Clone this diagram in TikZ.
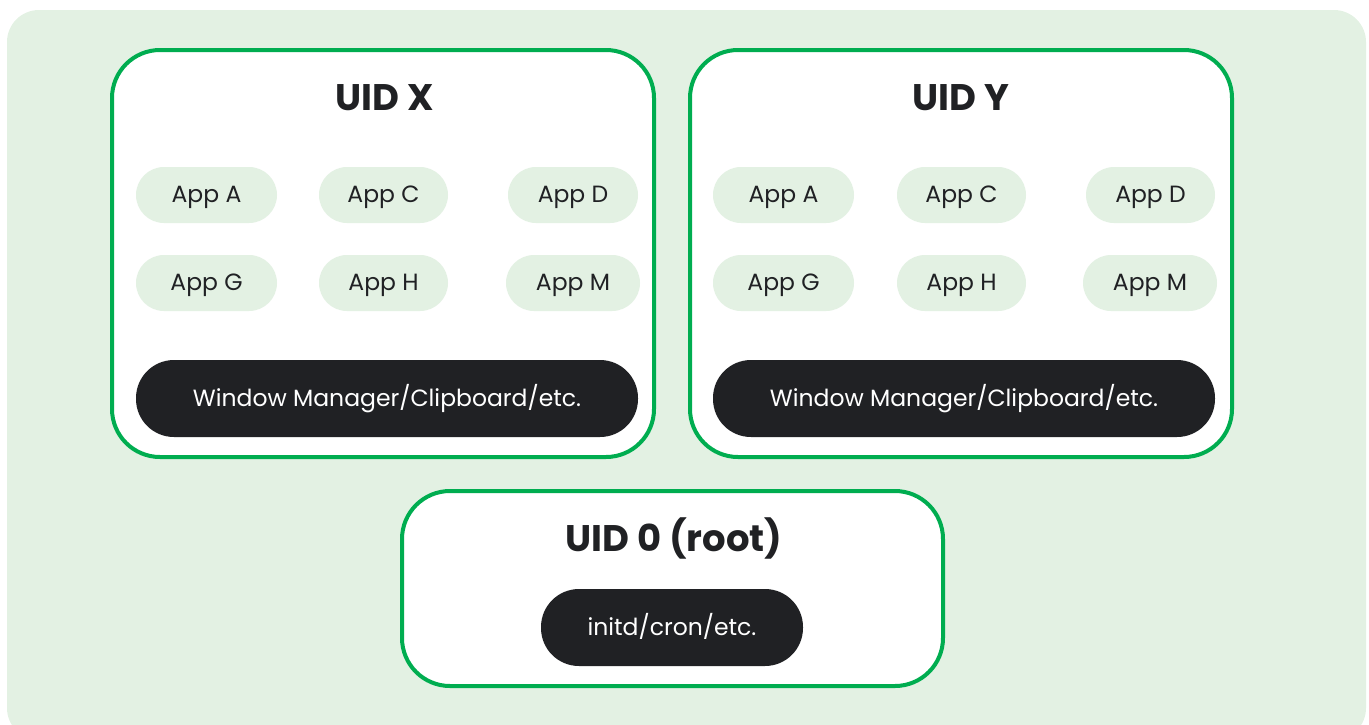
\documentclass[tikz,border=0pt]{standalone}
\usepackage{fontspec}
\setmainfont{Poppins}
\definecolor{bggreen}{HTML}{E3F1E3}
\definecolor{linegreen}{HTML}{00AD50}
\definecolor{darkbox}{HTML}{202124}
\begin{document}
\begin{tikzpicture}[x=1pt,y=-1pt,
  uidbox/.style={draw=linegreen,line width=4pt,fill=white,rounded corners=48pt,inner sep=0pt},
  apppill/.style={fill=bggreen,rounded corners=28pt,minimum height=56pt,inner sep=0pt,text=darkbox,font=\fontsize{23.5}{28}\selectfont,text depth=0pt,text height=15pt},
  darkpill/.style={fill=darkbox,rounded corners=38pt,minimum height=77pt,inner sep=0pt,text=white,font=\fontsize{23.5}{28}\selectfont,text depth=0pt,text height=15pt},
  title/.style={text=darkbox,font=\fontsize{37}{44}\selectfont\bfseries,inner sep=0pt}]
\useasboundingbox (0,0) rectangle (1369,724);
\fill[bggreen,rounded corners=32pt] (7,10) rectangle (1366,740);
% UID X
\node[uidbox,minimum width=542pt,minimum height=407pt] (bx) at (383,253.5) {};
\node[title] (tx) at (385,98) {UID X};
\node[apppill,minimum width=141pt] (xa) at (206.5,195) {App A};
\node[apppill,minimum width=129pt] (xc) at (383.5,195) {App C};
\node[apppill,minimum width=130pt] (xd) at (573,195) {App D};
\node[apppill,minimum width=141pt] (xg) at (206.5,283) {App G};
\node[apppill,minimum width=129pt] (xh) at (383.5,283) {App H};
\node[apppill,minimum width=134pt] (xm) at (573,283) {App M};
\node[darkpill,minimum width=502pt] (xw) at (387,398.5) {Window Manager/Clipboard/etc.};
% UID Y
\node[uidbox,minimum width=542pt,minimum height=407pt] (by) at (961,253.5) {};
\node[title] (ty) at (961,98) {UID Y};
\node[apppill,minimum width=141pt] (ya) at (783.5,195) {App A};
\node[apppill,minimum width=129pt] (yc) at (961.5,195) {App C};
\node[apppill,minimum width=129pt] (yd) at (1150.5,195) {App D};
\node[apppill,minimum width=141pt] (yg) at (783.5,283) {App G};
\node[apppill,minimum width=129pt] (yh) at (961.5,283) {App H};
\node[apppill,minimum width=134pt] (ym) at (1150,283) {App M};
\node[darkpill,minimum width=502pt] (yw) at (964,398.5) {Window Manager/Clipboard/etc.};
% UID 0
\node[uidbox,minimum width=541pt,minimum height=195pt] (b0) at (672.5,588.5) {};
\node[title] (t0) at (674,538) {UID 0 (root)};
\node[darkpill,minimum width=262pt] (i0) at (672,627.5) {initd/cron/etc.};
\end{tikzpicture}
\end{document}
